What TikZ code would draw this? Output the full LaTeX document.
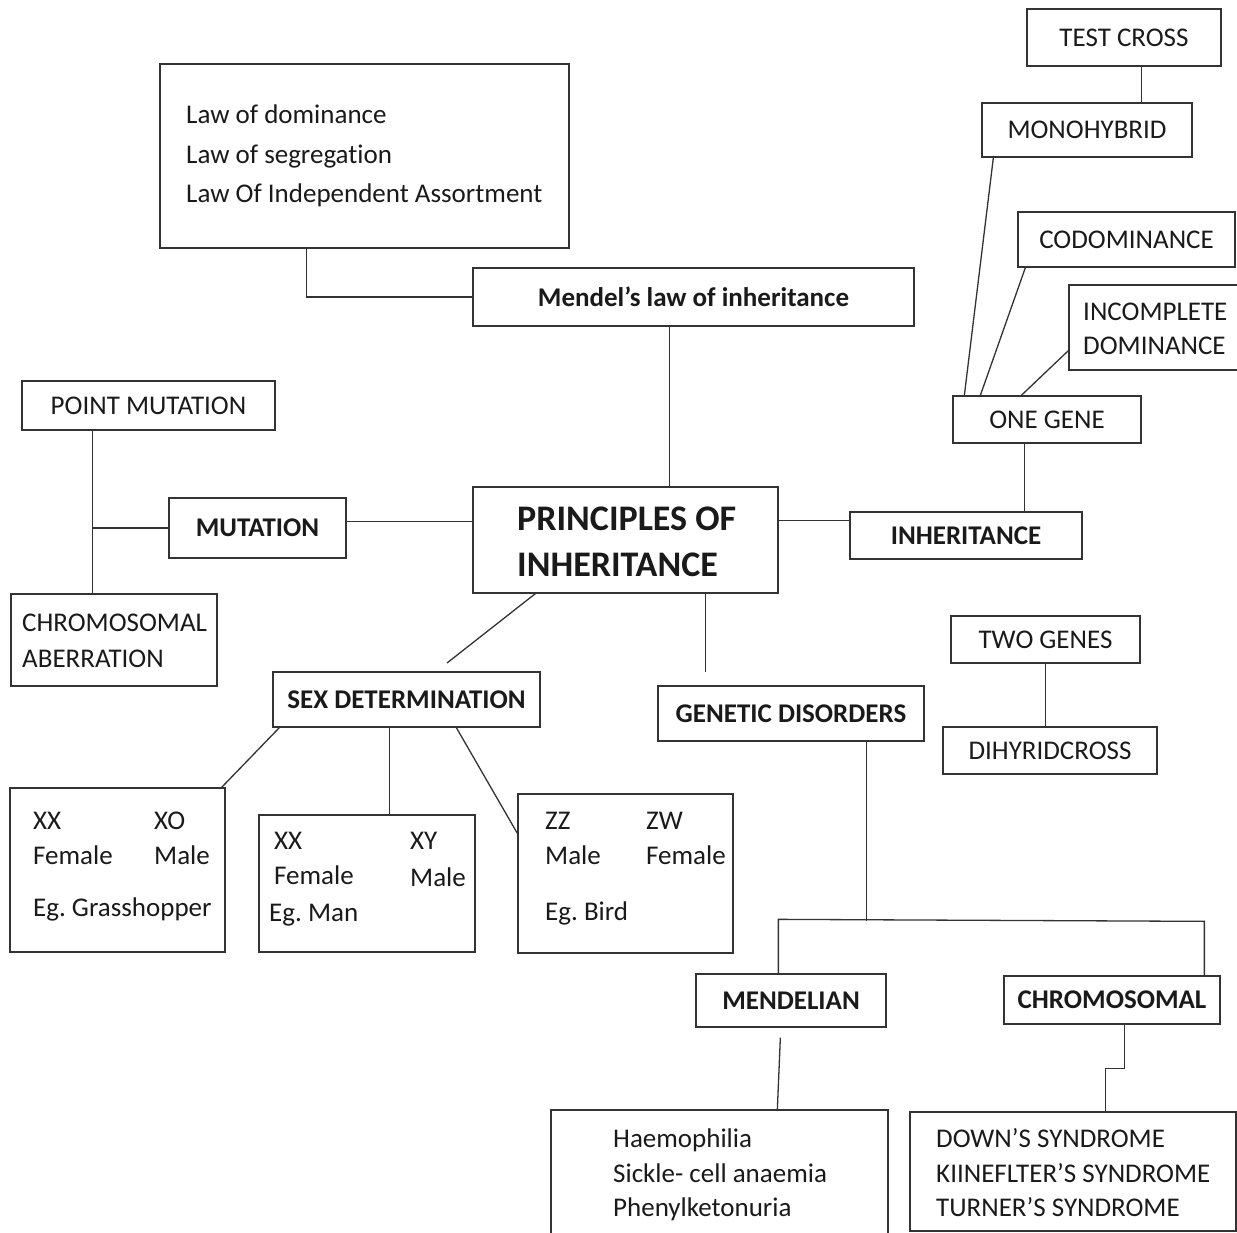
\documentclass[tikz,border=0pt]{standalone}
\usepackage{fontspec}
\setmainfont{Carlito}[Ligatures=NoCommon]
\usetikzlibrary{fit}
\definecolor{ln}{HTML}{333333}
\definecolor{tx}{HTML}{1A1A1A}
\frenchspacing
\begin{document}
\begin{tikzpicture}[x=1pt,y=-1pt,
  box/.style={draw=ln, line width=1.3pt, inner sep=0pt},
  ctext/.style={inner sep=0pt, anchor=center, text=tx, font=\fontsize{27}{33}\selectfont},
  bctext/.style={ctext, font=\fontsize{27}{33}\selectfont\bfseries},
  lbl/.style={inner sep=0pt, anchor=base west, text=tx, font=\fontsize{27}{33}\selectfont},
  blbl/.style={lbl, font=\fontsize{36}{40}\selectfont\bfseries},
  conn/.style={draw=ln, line width=1.3pt}]
\useasboundingbox (0,0) rectangle (1237,1233);
\fill[white] (0,0) rectangle (1237,1233);

% Mendel's laws
\node[box, fit={(160,64) (569,248)}] (law) {};
\node[lbl] (law1) at (186,124) {Law of dominance};
\node[lbl] (law2) at (186,164) {Law of segregation};
\node[lbl] (law3) at (186,203) {Law Of Independent Assortment};
\node[box, fit={(473,268) (914,326)}] (mendel) {};
\node[bctext] (mendelt) at (mendel.center) {Mendel’s law of inheritance};

% centre
\node[box, fit={(473,487) (778,593)}] (principles) {};
\node[blbl] (pr1) at (517,530) {PRINCIPLES OF};
\node[blbl] (pr2) at (517,576) {INHERITANCE};

% mutation
\node[box, fit={(22,381) (275,430)}] (pointmut) {};
\node[ctext] (pointmutt) at (pointmut.center) {POINT MUTATION};
\node[box, fit={(169,498) (346,558)}] (mutation) {};
\node[bctext] (mutationt) at (mutation.center) {MUTATION};
\node[box, fit={(11,594) (217,686)}] (chromab) {};
\node[lbl] (ca1) at (22,631) {CHROMOSOMAL};
\node[lbl] (ca2) at (22,667) {ABERRATION};

% inheritance branch
\node[box, fit={(1027,9) (1221,66)}] (testcross) {};
\node[ctext] (testcrosst) at (testcross.center) {TEST CROSS};
\node[box, fit={(982,103) (1192,157)}] (mono) {};
\node[ctext] (monot) at (mono.center) {MONOHYBRID};
\node[box, fit={(1018,212) (1235,267)}] (codom) {};
\node[ctext] (codomt) at (codom.center) {CODOMINANCE};
\node[box, fit={(1069,285) (1260,370)}] (incomp) {};
\node[lbl] (ic1) at (1083,320) {INCOMPLETE};
\node[lbl] (ic2) at (1083,355) {DOMINANCE};
\node[box, fit={(953,396) (1141,443)}] (onegene) {};
\node[ctext] (onegenet) at (onegene.center) {ONE GENE};
\node[box, fit={(850,512) (1082,559)}] (inherit) {};
\node[bctext] (inheritt) at (inherit.center) {INHERITANCE};
\node[box, fit={(951,616) (1140,663)}] (twogenes) {};
\node[ctext] (twogenest) at (twogenes.center) {TWO GENES};
\node[box, fit={(943,727) (1157,774)}] (dihy) {};
\node[ctext] (dihyt) at (dihy.center) {DIHYRIDCROSS};

% sex determination
\node[box, fit={(273,672) (540,727)}] (sexdet) {};
\node[bctext] (sexdett) at (sexdet.center) {SEX DETERMINATION};
\node[box, fit={(10,788) (225,952)}] (sx1) {};
\node[lbl] (s1a) at (33,829) {XX};
\node[lbl] (s1b) at (154,829) {XO};
\node[lbl] (s1c) at (33,864) {Female};
\node[lbl] (s1d) at (154,864) {Male};
\node[lbl] (s1e) at (33,916) {Eg. Grasshopper};
\node[box, fit={(259,815) (475,952)}] (sx2) {};
\node[lbl] (s2a) at (274,849) {XX};
\node[lbl] (s2b) at (410,849) {XY};
\node[lbl] (s2c) at (274,884) {Female};
\node[lbl] (s2d) at (410,886) {Male};
\node[lbl] (s2e) at (269,921) {Eg. Man};
\node[box, fit={(518,794) (733,953)}] (sx3) {};
\node[lbl] (s3a) at (545,829) {ZZ};
\node[lbl] (s3b) at (646,829) {ZW};
\node[lbl] (s3c) at (545,864) {Male};
\node[lbl] (s3d) at (646,864) {Female};
\node[lbl] (s3e) at (545,920) {Eg. Bird};

% genetic disorders
\node[box, fit={(658,686) (924,741)}] (genetic) {};
\node[bctext] (genetict) at (genetic.center) {GENETIC DISORDERS};
\node[box, fit={(696,974) (886,1027)}] (mendelian) {};
\node[bctext] (mendeliant) at (mendelian.center) {MENDELIAN};
\node[box, fit={(1004,976) (1220,1024)}] (chromo) {};
\node[bctext] (chromot) at (chromo.center) {CHROMOSOMAL};
\node[box, fit={(551,1110) (888,1260)}] (disease) {};
\node[lbl] (d1) at (613,1147) {Haemophilia};
\node[lbl] (d2) at (613,1182) {Sickle- cell anaemia};
\node[lbl] (d3) at (613,1216) {Phenylketonuria};
\node[box, fit={(910,1112) (1236,1231)}] (syndrome) {};
\node[lbl] (y1) at (936,1147) {DOWN’S SYNDROME};
\node[lbl] (y2) at (936,1182) {KIINEFLTER’S SYNDROME};
\node[lbl] (y3) at (936,1216) {TURNER’S SYNDROME};

\coordinate (sdend) at (447,663);

% connectors
\draw[conn] ([xshift=147pt]law.south west) |- (mendel.west);
\draw[conn] ([xshift=197pt]principles.north west) -- ([xshift=197pt]principles.north west |- mendel.south);
\draw[conn] ([yshift=-35pt]principles.north west) -- ([yshift=-35pt]principles.north west -| mutation.east);
\draw[conn] ([xshift=71pt]pointmut.south west) -- ([xshift=82pt]chromab.north west);
\draw[conn] (mutation.west) -- ++(-76,0);
\draw[conn] ([yshift=-34pt]principles.north east) -- ([yshift=-34pt]principles.north east -| inherit.west);
\draw[conn] ([xshift=72pt]onegene.south west) -- ([xshift=72pt]onegene.south west |- inherit.north);
\draw[conn] ([xshift=12pt]onegene.north west) -- ([xshift=12pt]mono.south west);
\draw[conn] ([xshift=28pt]onegene.north west) -- ([xshift=8pt]codom.south west);
\draw[conn] ([xshift=69pt]onegene.north west) -- ([yshift=20pt]incomp.south west);
\draw[conn] ([xshift=115pt]testcross.south west) -- ([xshift=115pt]testcross.south west |- mono.north);
\draw[conn] ([xshift=63pt]principles.south west) -- (sdend);
\draw[conn] ([xshift=233pt]principles.south west) -- ++(0,78);
\draw[conn] ([xshift=7pt]sexdet.south west) -- ([xshift=-4pt]sx1.north east);
\draw[conn] ([xshift=117pt]sexdet.south west) -- ([xshift=117pt]sexdet.south west |- sx2.north);
\draw[conn] ([xshift=184pt]sexdet.south west) -- ([yshift=-40pt]sx3.north west);
\draw[conn] (twogenes.south) -- (twogenes.south |- dihy.north);
\draw[conn] ([xshift=209pt]genetic.south west) -- ++(0,179);
\draw[conn] ([xshift=83pt]mendelian.north west) -- ++(0,-54) -- ([xshift=201pt,yshift=54pt]chromo.north west) -- ([xshift=201pt]chromo.north west);
\draw[conn] ([xshift=85pt,yshift=-10pt]mendelian.south west) -- ([xshift=227pt]disease.north west);
\draw[conn] ([xshift=121pt]chromo.south west) -- ++(0,44) -| ([xshift=196pt]syndrome.north west);
\end{tikzpicture}
\end{document}
